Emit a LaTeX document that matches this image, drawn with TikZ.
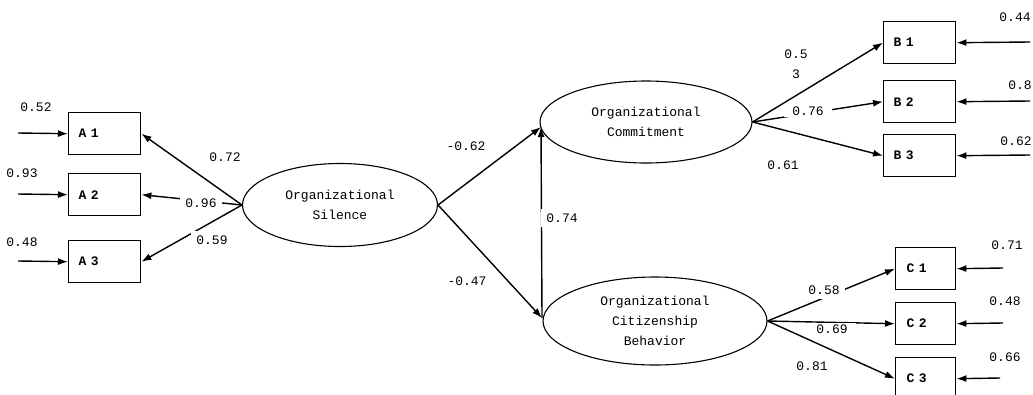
\documentclass[tikz,border=0pt]{standalone}
\usepackage{fontspec}
\setmonofont{Liberation Mono}
\usetikzlibrary{arrows.meta,shapes.geometric}
\tikzset{
  every node/.style={font=\ttfamily\fontsize{13}{20}\selectfont},
  ind/.style={draw, line width=1.4pt, minimum height=42pt, align=left, anchor=north west, inner xsep=10pt, font=\ttfamily\bfseries\fontsize{13}{20}\selectfont},
  lat/.style={draw, ellipse, line width=1.1pt, inner sep=0pt, align=center},
  lab/.style={fill=white, inner sep=2pt, align=center},
  arr/.style={line width=1.4pt, -{Latex[length=10pt,width=7pt]}},
}
\begin{document}
\begin{tikzpicture}[x=1pt,y=-1pt]
\useasboundingbox (0,0) rectangle (1033,394);
% indicator boxes
\node[ind, text width=52pt] (A1) at (68,112) {A 1};
\node[ind, text width=52pt] (A2) at (68,173) {A 2};
\node[ind, text width=52pt] (A3) at (68,240) {A 3};
\node[ind, text width=52pt] (B1) at (883,21) {B 1};
\node[ind, text width=52pt] (B2) at (883,80) {B 2};
\node[ind, text width=52pt] (B3) at (883,134) {B 3};
\node[ind, text width=38pt, inner xsep=11pt] (C1) at (895,247) {C 1};
\node[ind, text width=38pt, inner xsep=11pt] (C2) at (895,302) {C 2};
\node[ind, text width=38pt, inner xsep=11pt] (C3) at (895,357) {C 3};
% latent ellipses
\node[lat, minimum width=195pt, minimum height=83pt] (S) at (340,205) {Organizational\\Silence};
\node[lat, minimum width=212pt, minimum height=82pt] (OC) at (646,122) {Organizational\\Commitment};
\node[lat, minimum width=224pt, minimum height=88pt] (OCB) at (655,321) {Organizational\\Citizenship\\Behavior};
% error term free ends
\coordinate (eA1) at (18,133);
\coordinate (eA2) at (18,194);
\coordinate (eA3) at (18,261);
\coordinate (eB1) at (1030,42);
\coordinate (eB2) at (1030,101);
\coordinate (eB3) at (1030,155);
\coordinate (eC1) at (1003,268);
\coordinate (eC2) at (1003,323);
\coordinate (eC3) at (1000,378);
\coordinate (ocw) at (541,127);
\coordinate (ocbw) at (542,318);
% error arrows
\draw[arr] (eA1) -- (A1.west);
\draw[arr] (eA2) -- (A2.west);
\draw[arr] (eA3) -- (A3.west);
\draw[arr] (eB1) -- (B1.east);
\draw[arr] (eB2) -- (B2.east);
\draw[arr] (eB3) -- (B3.east);
\draw[arr] (eC1) -- (C1.east);
\draw[arr] (eC2) -- (C2.east);
\draw[arr] (eC3) -- (C3.east);
% loadings
\draw[arr] (S.west) -- (A1.east);
\draw[arr] (S.west) -- (A2.east);
\draw[arr] (S.west) -- (A3.east);
\draw[arr] (OC.east) -- (B1.west);
\draw[arr] (OC.east) -- (B2.west);
\draw[arr] (OC.east) -- (B3.west);
\draw[arr] (OCB.east) -- (C1.west);
\draw[arr] (OCB.east) -- (C2.west);
\draw[arr] (OCB.east) -- (C3.west);
% structural paths
\draw[arr] (S.east) -- (ocw);
\draw[arr] (S.east) -- (ocbw);
\draw[arr] (ocbw) -- (ocw);
% labels
\node[lab] at (36,107) {0.52};
\node[lab] at (22,173) {0.93};
\node[lab] at (22,242) {0.48};
\node[lab] at (225,157) {0.72};
\node[lab, inner xsep=5pt] at (201,203) {0.96};
\node[lab, inner sep=5pt] at (212,240) {0.59};
\node[lab, inner sep=8pt] at (466,146) {-0.62};
\node[lab, inner sep=8pt] at (467,281) {-0.47};
\node[lab, inner sep=5pt] at (562,218) {0.74};
\node[lab, inner sep=0pt] at (796,64) {0.5\\3};
\node[lab, inner xsep=8pt] at (808,111) {0.76};
\node[lab] at (783,165) {0.61};
\node[lab, inner sep=0pt] at (1015,17) {0.44};
\node[lab, inner sep=0pt] at (1020,85) {0.8};
\node[lab] at (1016,141) {0.62};
\node[lab, inner sep=5pt] at (824,290) {0.58};
\node[lab, inner xsep=8pt] at (832,329) {0.69};
\node[lab] at (812,366) {0.81};
\node[lab] at (1007,245) {0.71};
\node[lab] at (1005,301) {0.48};
\node[lab] at (1005,357) {0.66};
\end{tikzpicture}
\end{document}
